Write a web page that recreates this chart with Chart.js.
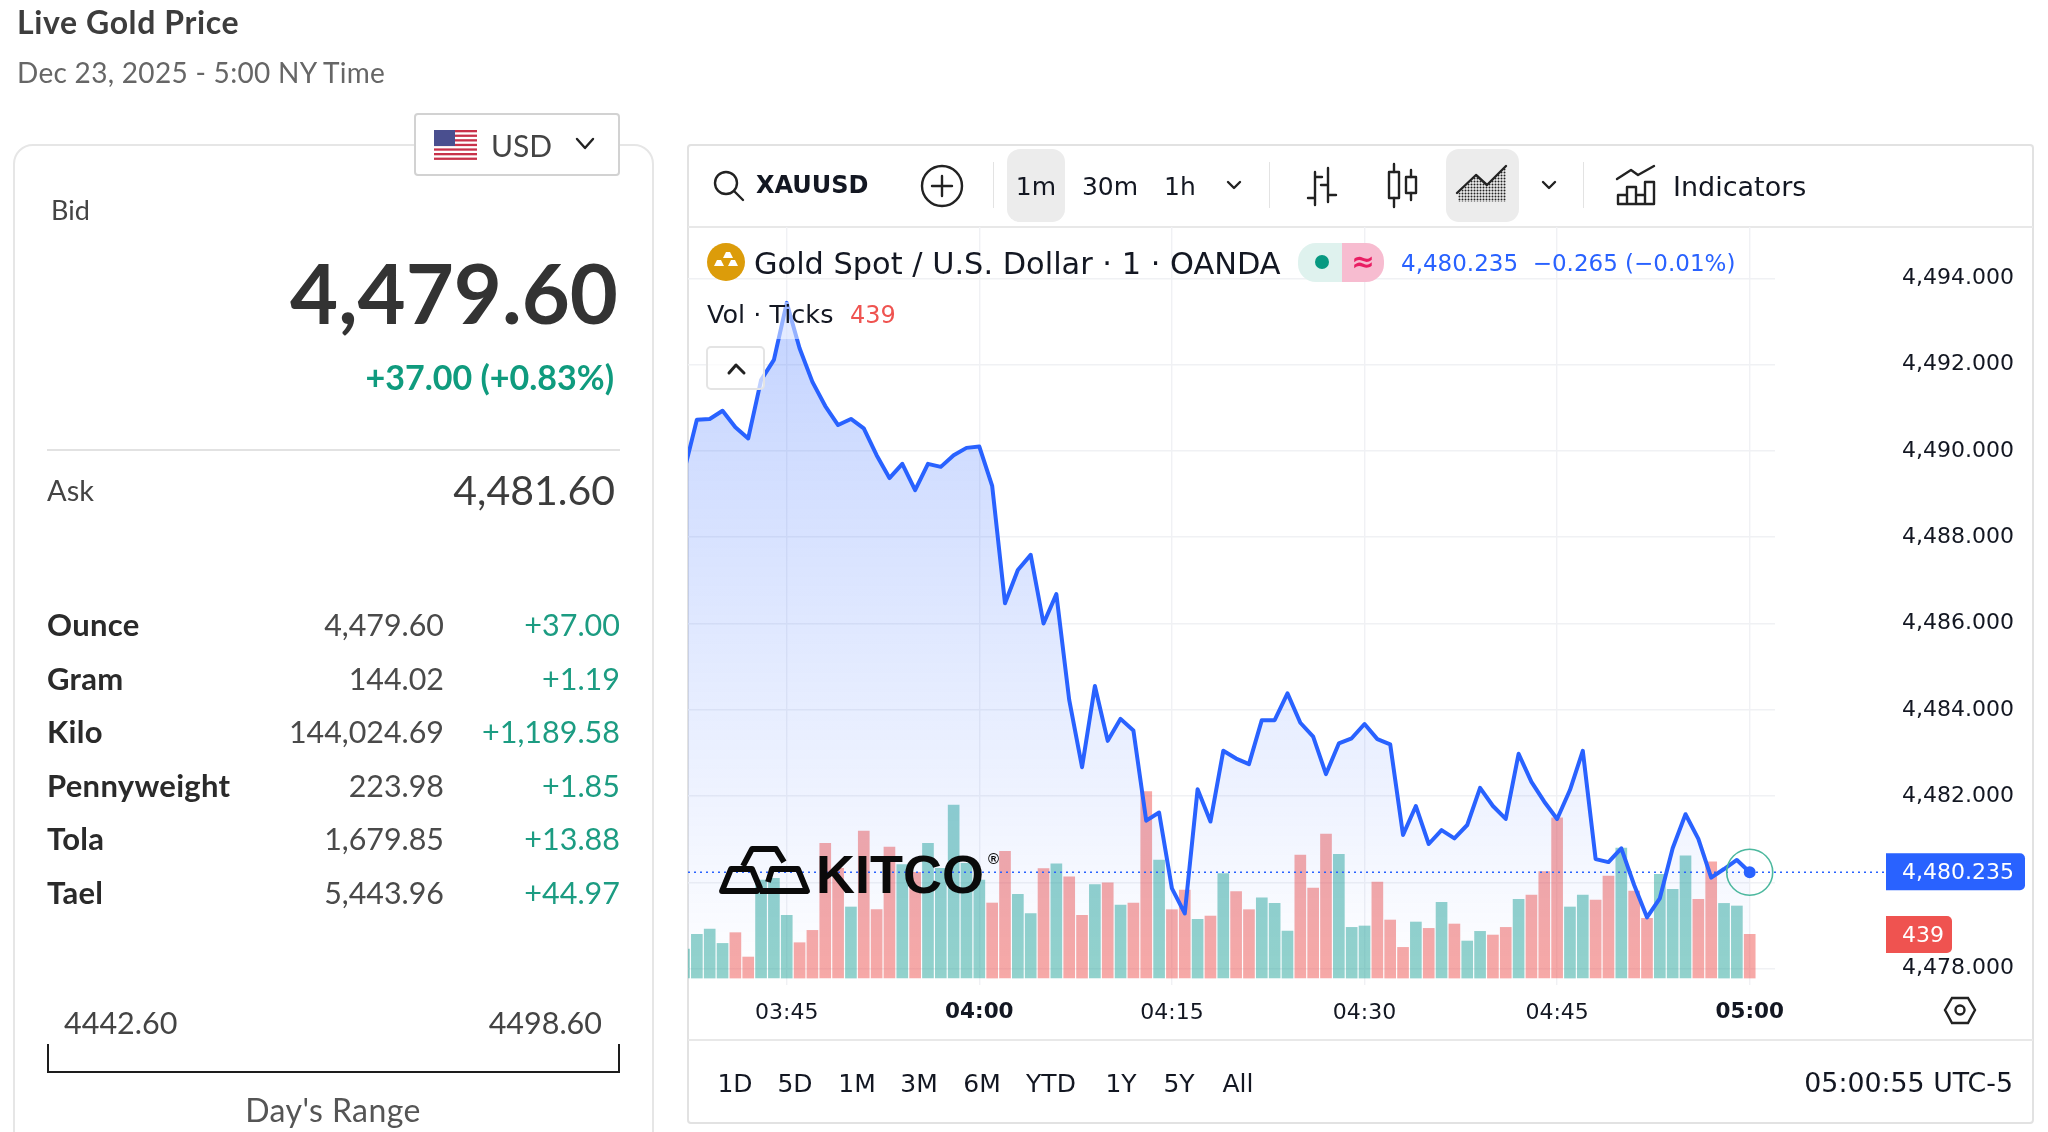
<!DOCTYPE html>
<html lang="en">
<head>
<meta charset="utf-8">
<title>Live Gold Price</title>
<script src="https://cdn.jsdelivr.net/npm/chart.js@4/dist/chart.umd.min.js"></script>
<style>
  html, body { margin: 0; padding: 0; background: #fff; overflow: hidden; }
  #page { position: relative; width: 2048px; height: 1132px; overflow: hidden; }
  .abs { position: absolute; box-sizing: border-box; }
  .t { position: absolute; white-space: pre; line-height: 1; }
  #chartCanvas { position: absolute; left: 688px; top: 227px; z-index: 1; }
  svg.layer { position: absolute; left: 0; top: 0; width: 2048px; height: 1132px; z-index: 3; pointer-events: none; }
</style>
</head>
<body>
<div id="page">
  <!-- Quote card and chart frame -->
  <div class="abs" style="left:13px;top:144px;width:641px;height:1040px;border:2px solid #e6e6e6;border-radius:20px;"></div>
  <div class="abs" style="left:414px;top:113px;width:206px;height:63px;background:#fff;border:2px solid #d2d2d2;border-radius:4px;z-index:1;"></div>
  <div class="abs" style="left:687px;top:144px;width:1347px;height:980px;border:2px solid #e2e2e2;border-radius:4px;"></div>
  <div class="abs" style="left:688px;top:226px;width:1345px;height:2px;background:#e8e8e8;"></div>
  <div class="abs" style="left:688px;top:1039px;width:1345px;height:2px;background:#e8e8e8;"></div>
  <div class="abs" style="left:1007px;top:149px;width:58px;height:73px;background:#ececec;border-radius:13px;"></div>
  <div class="abs" style="left:1446px;top:149px;width:73px;height:73px;background:#ececec;border-radius:13px;"></div>
  <div class="abs" style="left:993px;top:162px;width:1px;height:46px;background:#e3e3e3;"></div>
  <div class="abs" style="left:1269px;top:162px;width:1px;height:46px;background:#e3e3e3;"></div>
  <div class="abs" style="left:1583px;top:162px;width:1px;height:46px;background:#e3e3e3;"></div>
  <div class="abs" style="left:47px;top:449px;width:573px;height:2px;background:#e2e2e2;"></div>
  <!-- Day's range bracket -->
  <div class="abs" style="left:47px;top:1044px;width:573px;height:29px;border:2px solid #1d1d1d;border-top:none;"></div>

  <canvas id="chartCanvas" width="1342" height="812"></canvas>

  <!-- Soft panels that sit above the plot -->
  <div class="abs" style="left:700px;top:302px;width:210px;height:37px;background:rgba(255,255,255,.5);z-index:2;"></div>
  <div class="abs" style="left:706px;top:346px;width:59px;height:44px;background:rgba(255,255,255,.7);border:2px solid #e4e4e4;border-radius:5px;z-index:2;"></div>
  <div class="abs" style="left:1298px;top:243px;width:44px;height:39px;background:#dff2ee;border-radius:18px 0 0 18px;z-index:2;"></div>
  <div class="abs" style="left:1342px;top:243px;width:42px;height:39px;background:#f7bcd0;border-radius:0 18px 18px 0;z-index:2;"></div>

  <svg class="layer" viewBox="0 0 2048 1132" xmlns="http://www.w3.org/2000/svg">
    <defs>
      <pattern id="dots" width="3" height="3" patternUnits="userSpaceOnUse"><circle cx="1.5" cy="1.5" r="1" fill="#222"/></pattern>
      <clipPath id="areaClip"><path d="M1458 202 L1458 194 L1476 176 L1487 186 L1506 167 L1506 202 Z"/></clipPath>
    </defs>
    <!-- Flag -->
    <g>
      <rect x="434" y="130" width="43" height="30" fill="#fff"/>
      <g fill="#c8324a">
        <rect x="434" y="130" width="43" height="2.3"/><rect x="434" y="134.6" width="43" height="2.3"/>
        <rect x="434" y="139.2" width="43" height="2.3"/><rect x="434" y="143.8" width="43" height="2.3"/>
        <rect x="434" y="148.4" width="43" height="2.3"/><rect x="434" y="153" width="43" height="2.3"/>
        <rect x="434" y="157.6" width="43" height="2.3"/>
      </g>
      <rect x="434" y="130" width="21" height="16" fill="#4a4f8f"/>
    </g>
    <g fill="none" stroke="#222" stroke-width="2.4" stroke-linecap="round" stroke-linejoin="round">
      <path d="M577 139 L585 148 L593 139"/>
      <!-- search -->
      <circle cx="726" cy="183" r="11"/><path d="M734 191 L743 200"/>
      <!-- add -->
      <circle cx="942" cy="186" r="20"/><path d="M942 176 V196 M932 186 H952"/>
      <!-- interval and style menus -->
      <path d="M1228 182 L1234 188 L1240 182"/><path d="M1543 182 L1549 188 L1555 182"/>
      <!-- bar style -->
      <path d="M1315 172 V205 M1315 177 H1322 M1315 198 H1308 M1328 168 V202 M1328 185 H1321 M1328 195 H1336"/>
      <!-- candle style -->
      <path d="M1394 164 V172 M1394 198 V207 M1411 170 V177 M1411 193 V200"/>
      <rect x="1389" y="172" width="10" height="26"/><rect x="1406" y="177" width="10" height="16"/>
      <!-- area style -->
      <path d="M1457 193 L1476 175 L1487 185 L1506 166"/>
      <!-- indicators -->
      <path d="M1617 179 L1631 170 L1638 175 L1654 166"/>
      <path d="M1618 204 H1654 V182 H1645 V204 M1645 204 V195 H1636 V204 M1636 204 V187 H1627 V204 M1627 204 V195 H1618 V204"/>
      <!-- collapse -->
      <path d="M729 373 L736 365 L744 373" stroke-width="3"/>
      <!-- settings -->
      <path d="M1945 1010 L1952 998 L1968 998 L1975 1010 L1968 1023 L1952 1023 Z" stroke-linejoin="miter"/>
      <circle cx="1960" cy="1010" r="4.5"/>
    </g>
    <rect x="1458" y="166" width="49" height="37" fill="url(#dots)" clip-path="url(#areaClip)"/>
    <!-- Gold symbol badge -->
    <circle cx="726" cy="262" r="19" fill="#dc9c0a"/>
    <path d="M726 250 h4 l3 6 h-10 z M717 258 h4 l3 6 h-10 z M731 258 h4 l3 6 h-10 z" fill="#fff" transform="translate(0 2)"/>
    <circle cx="1322" cy="262" r="7" fill="#089981"/>
    <!-- KITCO mark -->
    <g fill="none" stroke="#0a0a0a" stroke-width="5.8" stroke-linejoin="round">
      <path d="M743 866 L752 849 L776 849 L784 862"/>
      <path d="M722 891 L731 869 L752 869 L760 888 L757 891 Z"/>
      <path d="M768 882 L772 869 L798 869 L807 891 L760 891"/>
    </g>
  </svg>
</div>

<script>
// Price per minute, starting at 03:37 and ending at 05:00.
const firstMinute = 217;
const closePrices = [
  4489.52, 4490.72, 4490.74, 4490.93, 4490.55, 4490.29, 4491.64, 4492.11, 4493.43, 4492.38,
  4491.60, 4491.04, 4490.60, 4490.74, 4490.52, 4489.90, 4489.37, 4489.70, 4489.09, 4489.70,
  4489.63, 4489.90, 4490.07, 4490.10, 4489.19, 4486.47, 4487.24, 4487.59, 4486.00, 4486.68,
  4484.23, 4482.67, 4484.55, 4483.28, 4483.79, 4483.52, 4481.43, 4481.62, 4479.86, 4479.28,
  4482.16, 4481.41, 4483.05, 4482.87, 4482.74, 4483.76, 4483.76, 4484.38, 4483.70, 4483.38,
  4482.51, 4483.22, 4483.34, 4483.67, 4483.32, 4483.20, 4481.10, 4481.77, 4480.89, 4481.21,
  4481.02, 4481.33, 4482.19, 4481.77, 4481.47, 4482.98, 4482.33, 4481.87, 4481.47, 4482.14,
  4483.05, 4480.54, 4480.47, 4480.79, 4479.94, 4479.19, 4479.63, 4480.79, 4481.58, 4481.01,
  4480.11, 4480.31, 4480.52, 4480.235
];

// Tick volume per minute.
const tickVolumes = [
  291, 439, 492, 348, 456, 211, 985, 1002, 630, 355,
  479, 1353, 1102, 714, 1477, 687, 1317, 1139, 1062, 1353,
  1102, 1739, 1152, 985, 754, 1273, 841, 647, 1099, 1149,
  1018, 630, 938, 958, 734, 754, 1873, 1186, 687, 884,
  590, 623, 1049, 868, 687, 807, 750, 472, 1236, 905,
  1447, 1243, 509, 523, 965, 583, 308, 563, 499, 760,
  543, 372, 469, 432, 509, 791, 834, 1069, 1611, 714,
  834, 784, 1025, 1307, 874, 600, 1042, 891, 1229, 791,
  1169, 750, 724, 439
];

// Volume bar direction, minute by minute.
const volumeSides = [
  'g','g','g','g','r','r','g','g','g','r',
  'r','r','r','g','r','r','r','g','r','g',
  'g','g','g','g','r','r','g','g','r','g',
  'r','r','g','r','g','r','r','g','r','r',
  'g','r','g','r','r','g','g','g','r','r',
  'r','g','g','g','r','r','r','g','r','g',
  'r','g','g','r','r','g','r','r','r','g',
  'g','r','r','g','r','r','g','g','g','r',
  'r','g','g','r'
];

const priceTicks = [4478, 4480, 4482, 4484, 4486, 4488, 4490, 4492, 4494];
const timeTicks = [225, 240, 255, 270, 285, 300];
const lastPrice = 4480.235;
const lastVolume = 439;

// Quote table rows: unit, price, change.
const rowUnits = ['Ounce', 'Gram', 'Kilo', 'Pennyweight', 'Tola', 'Tael'];
const rowPrices = ['4,479.60', '144.02', '144,024.69', '223.98', '1,679.85', '5,443.96'];
const rowChanges = ['+37.00', '+1.19', '+1,189.58', '+1.85', '+13.88', '+44.97'];
const rangeButtons = ['1D', '5D', '1M', '3M', '6M', 'YTD', '1Y', '5Y', 'All'];
const rangeCentres = [735, 795, 857, 919, 982, 1051, 1121, 1179, 1238];

const SITE = 'Lato, "Noto Sans", sans-serif';
const TV = '"DejaVu Sans", sans-serif';
const page = document.getElementById('page');

function put(text, o) {
  const el = document.createElement('div');
  el.className = 't';
  el.textContent = text;
  el.style.font = `${o.weight || 400} ${o.size}px ${o.font || SITE}`;
  el.style.lineHeight = '1';
  el.style.color = o.color || '#333';
  el.style.top = o.y + 'px';
  el.style.zIndex = o.z || 4;
  const shift = o.align === 'right' ? '-100%' : o.align === 'center' ? '-50%' : '0';
  el.style.left = o.x + 'px';
  el.style.transform = `translate(${shift}, -50%)`;
  if (o.spacing) el.style.letterSpacing = o.spacing + 'px';
  page.appendChild(el);
}

// Quote panel
put('Live Gold Price', { x: 17, y: 22, size: 32, weight: 700, color: '#3d3d3d', spacing: 0.6 });
put('Dec 23, 2025 - 5:00 NY Time', { x: 17, y: 72, size: 28, color: '#666', spacing: 0.3 });
put('USD', { x: 491, y: 145, size: 30, color: '#444' });
put('Bid', { x: 51, y: 209, size: 27, color: '#444' });
put('4,479.60', { x: 618, y: 292, size: 83, weight: 700, color: '#333', align: 'right' });
put('+37.00 (+0.83%)', { x: 614, y: 377, size: 34, weight: 700, color: '#0f9b7e', align: 'right' });
put('Ask', { x: 47, y: 489, size: 29, color: '#444' });
put('4,481.60', { x: 615, y: 489, size: 41, color: '#3c3c3c', align: 'right' });
rowUnits.forEach((unit, i) => {
  const y = 624 + i * 53.6;
  put(unit, { x: 47, y, size: 31, weight: 700, color: '#2a2a2a', spacing: 0.3 });
  put(rowPrices[i], { x: 444, y, size: 30.4, color: '#4a4a4a', align: 'right' });
  put(rowChanges[i], { x: 620, y, size: 30.5, color: '#1c9c82', align: 'right' });
});
put('4442.60', { x: 64, y: 1022, size: 30.5, color: '#444' });
put('4498.60', { x: 602, y: 1022, size: 30.5, color: '#444', align: 'right' });
put("Day's Range", { x: 333, y: 1110, size: 32, color: '#555', align: 'center', spacing: 0.4 });

// Chart toolbar
put('XAUUSD', { x: 756, y: 185, size: 24, weight: 700, font: TV, color: '#131722' });
put('1m', { x: 1036, y: 186, size: 25, font: TV, color: '#131722', align: 'center' });
put('30m', { x: 1110, y: 186, size: 25, font: TV, color: '#131722', align: 'center' });
put('1h', { x: 1180, y: 186, size: 25, font: TV, color: '#131722', align: 'center' });
put('Indicators', { x: 1673, y: 186, size: 27, font: TV, color: '#131722' });

// Legend rows over the plot
put('Gold Spot / U.S. Dollar · 1 · OANDA', { x: 754, y: 264, size: 30.4, font: TV, color: '#131722' });
put('≈', { x: 1363, y: 262, size: 28, font: TV, weight: 700, color: '#e91e63', align: 'center' });
put('4,480.235  −0.265 (−0.01%)', { x: 1401, y: 263, size: 23, font: TV, color: '#2962ff' });
put('Vol · Ticks', { x: 707, y: 315, size: 25.5, font: TV, color: '#131722' });
put(String(lastVolume), { x: 850, y: 315, size: 24, font: TV, color: '#ef5350' });

// Range selector and clock
rangeButtons.forEach((label, i) => {
  put(label, { x: rangeCentres[i], y: 1083, size: 25, font: TV, color: '#131722', align: 'center' });
});
put('05:00:55 UTC-5', { x: 2013, y: 1083, size: 26.8, font: TV, color: '#131722', align: 'right' });

// Wordmark laid over the plot
put('KITCO', { x: 816, y: 874, size: 54, weight: 700, font: '"Liberation Sans", sans-serif', color: '#0a0a0a' });
put('®', { x: 988, y: 858, size: 15, weight: 700, font: '"Liberation Sans", sans-serif', color: '#0a0a0a' });

const pad2 = n => String(n).padStart(2, '0');
const clock = m => `${pad2(Math.floor(m / 60))}:${pad2(m % 60)}`;

const pricePoints = closePrices.map((y, i) => ({ x: firstMinute + i, y }));
const volumePoints = tickVolumes.map((y, i) => ({ x: firstMinute + i, y }));

// Draws the last-price guide, its pulse ring and the two axis tags.
const lastPriceMarker = {
  id: 'lastPriceMarker',
  afterDatasetsDraw(chart) {
    const { ctx, scales } = chart;
    const y = scales.y.getPixelForValue(lastPrice);
    const x = scales.x.getPixelForValue(firstMinute + closePrices.length - 1);
    ctx.save();
    ctx.strokeStyle = '#2962ff';
    ctx.lineWidth = 1.4;
    ctx.setLineDash([2, 4]);
    ctx.beginPath();
    ctx.moveTo(chart.chartArea.left, y);
    ctx.lineTo(1198, y);
    ctx.stroke();
    ctx.setLineDash([]);
    ctx.strokeStyle = '#4cb89e';
    ctx.lineWidth = 1.6;
    ctx.beginPath();
    ctx.arc(x, y, 23, 0, Math.PI * 2);
    ctx.stroke();
    ctx.restore();
  },
  afterDraw(chart) {
    const { ctx, scales } = chart;
    const y = scales.y.getPixelForValue(lastPrice);
    const tag = (top, w, h, fill, text) => {
      ctx.fillStyle = fill;
      ctx.beginPath();
      ctx.roundRect(1198, top, w, h, [0, 5, 5, 0]);
      ctx.fill();
      ctx.fillStyle = '#fff';
      ctx.font = `22px ${TV}`;
      ctx.textAlign = 'left';
      ctx.textBaseline = 'middle';
      ctx.fillText(text, 1214, top + h / 2 + 2);
    };
    ctx.save();
    tag(y - 19, 139, 37, '#2962ff', lastPrice.toLocaleString('en-US', { minimumFractionDigits: 3 }));
    tag(916 - 227, 66, 37, '#ef5350', String(lastVolume));
    ctx.restore();
  }
};

new Chart(document.getElementById('chartCanvas'), {
  type: 'line',
  data: {
    datasets: [
      {
        type: 'line',
        data: pricePoints,
        xAxisID: 'x',
        yAxisID: 'y',
        order: 1,
        borderColor: '#2962ff',
        borderWidth: 4,
        borderJoinStyle: 'round',
        tension: 0,
        fill: 'start',
        pointRadius: c => (c.dataIndex === closePrices.length - 1 ? 6 : 0),
        pointBackgroundColor: '#2962ff',
        pointBorderWidth: 0,
        backgroundColor(c) {
          const { ctx, chartArea, scales } = c.chart;
          if (!chartArea || !scales.y) return 'rgba(41,98,255,.1)';
          const top = scales.y.getPixelForValue(Math.max(...closePrices));
          const g = ctx.createLinearGradient(0, top, 0, chartArea.bottom);
          g.addColorStop(0, 'rgba(41,98,255,0.28)');
          g.addColorStop(1, 'rgba(41,98,255,0)');
          return g;
        }
      },
      {
        type: 'bar',
        data: volumePoints,
        xAxisID: 'x',
        yAxisID: 'vol',
        order: 2,
        barThickness: 11,
        backgroundColor: c => (volumeSides[c.dataIndex] === 'g' ? 'rgba(38,166,154,.5)' : 'rgba(239,83,80,.5)')
      }
    ]
  },
  options: {
    responsive: false,
    animation: false,
    layout: { padding: 0, autoPadding: false },
    events: [],
    plugins: { legend: { display: false }, tooltip: { enabled: false } },
    scales: {
      x: {
        type: 'linear',
        offset: false,
        min: 217.31,
        max: 301.97,
        afterBuildTicks(s) { s.ticks = timeTicks.map(value => ({ value })); },
        // The plot runs edge to edge, so the scale reserves no side margins.
        afterFit(s) { s.height = 54; s.paddingLeft = 0; s.paddingRight = 0; },
        border: { display: false },
        grid: { color: '#f0f1f4', lineWidth: 1.4, drawTicks: false, offset: false },
        ticks: {
          autoSkip: false,
          maxRotation: 0,
          padding: 15,
          color: '#131722',
          font: c => (c.tick && c.tick.value % 60 === 0
            ? { family: TV, size: 21.5, weight: 'bold' }
            : { family: TV, size: 22 }),
          callback: v => clock(v)
        }
      },
      y: {
        position: 'right',
        min: 4477.622,
        max: 4495.189,
        afterBuildTicks(s) { s.ticks = priceTicks.map(value => ({ value })); },
        afterFit(s) { s.width = 255; s.paddingTop = 0; s.paddingBottom = 0; },
        border: { display: false },
        grid: { color: '#f0f1f4', lineWidth: 1.4, tickLength: 127, tickColor: 'rgba(0,0,0,0)' },
        ticks: {
          padding: 0,
          color: '#131722',
          font: { family: TV, size: 22 },
          callback: v => v.toLocaleString('en-US', { minimumFractionDigits: 3 })
        }
      },
      vol: {
        display: false,
        min: -70,
        max: 7548
      }
    }
  },
  plugins: [lastPriceMarker]
});
</script>
</body>
</html>
